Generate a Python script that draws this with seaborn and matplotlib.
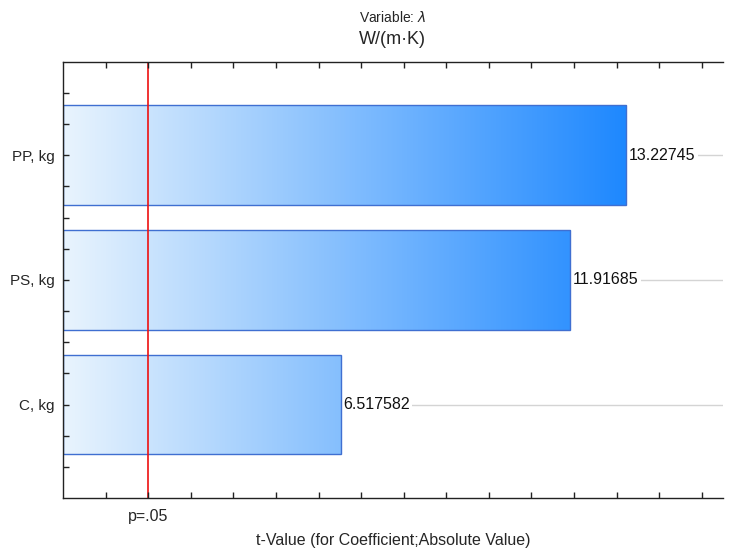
import numpy as np
import seaborn as sns
import matplotlib.pyplot as plt
from matplotlib.colors import LinearSegmentedColormap

# --- data ---
factors = ["PP, kg", "PS, kg", "C, kg"]
t_values = [13.22745, 11.91685, 6.517582]
value_labels = ["13.22745", "11.91685", "6.517582"]
p_crit = 2.0

sns.set_theme(style="white")
plt.rcParams["font.family"] = ["Liberation Sans", "DejaVu Sans"]

fig = plt.figure(figsize=(7.34, 5.51), dpi=100)
ax = fig.add_axes([0.086, 0.096, 0.899, 0.792])

sns.barplot(x=t_values, y=factors, orient="h", width=0.8, ax=ax,
            facecolor="none", edgecolor="#3f6fd1", linewidth=1, zorder=1.3)

# gradient fill clipped to each bar
cmap = LinearSegmentedColormap.from_list("bl", ["#e9f4fd", "#1e88ff"])
grad = np.linspace(0, 1, 256).reshape(1, -1)
for patch in ax.patches:
    im = ax.imshow(grad, cmap=cmap, aspect="auto", extent=[0, max(t_values), 2.75, -0.75],
                   zorder=1.2, interpolation="bicubic")
    im.set_clip_path(patch)
ax.set_xlim(0, 15.5)
ax.set_ylim(2.75, -0.75)

# value labels
for i, (v, lab) in enumerate(zip(t_values, value_labels)):
    ax.text(v + 0.06, i, lab, va="center", ha="left", fontsize=11.5, color="#111111",
            bbox=dict(facecolor="white", edgecolor="none", pad=2), zorder=1.1)

# grid lines at factor positions
for i in range(len(factors)):
    ax.axhline(i, color="#d4d4d4", lw=1, zorder=1)

# significance line
ax.axvline(p_crit, color="#ee1111", lw=1.2, zorder=5)

# ticks
ax.set_xticks(np.arange(1, 16))
ax.set_xticklabels(["p=.05" if t == 2 else "" for t in range(1, 16)], fontsize=11.5)
ax.set_yticks(range(len(factors)))
ax.set_yticklabels(factors, fontsize=11)
ax.set_yticks(np.arange(-0.5, 2.75, 0.25), minor=True)
ax.tick_params(axis="both", which="both", direction="in", length=4, width=1,
               color="#222222", top=True, left=True, bottom=True, pad=8)
ax.tick_params(axis="y", which="major", length=4, pad=6)

for s in ["left", "bottom", "top"]:
    ax.spines[s].set_color("#222222")
    ax.spines[s].set_linewidth(1)
    ax.spines[s].set_zorder(6)
ax.spines["right"].set_visible(False)
ax.xaxis.set_zorder(6)
ax.yaxis.set_zorder(6)

ax.set_xlabel("t-Value (for Coefficient;Absolute Value)", fontsize=11.5, labelpad=6)
ax.set_ylabel("")

fig.text(0.535, 0.968, r"Variable: $\lambda$", ha="center", va="center", fontsize=10)
fig.text(0.535, 0.928, "W/(m·K)", ha="center", va="center", fontsize=13)

fig.savefig("out.png", dpi=100)
